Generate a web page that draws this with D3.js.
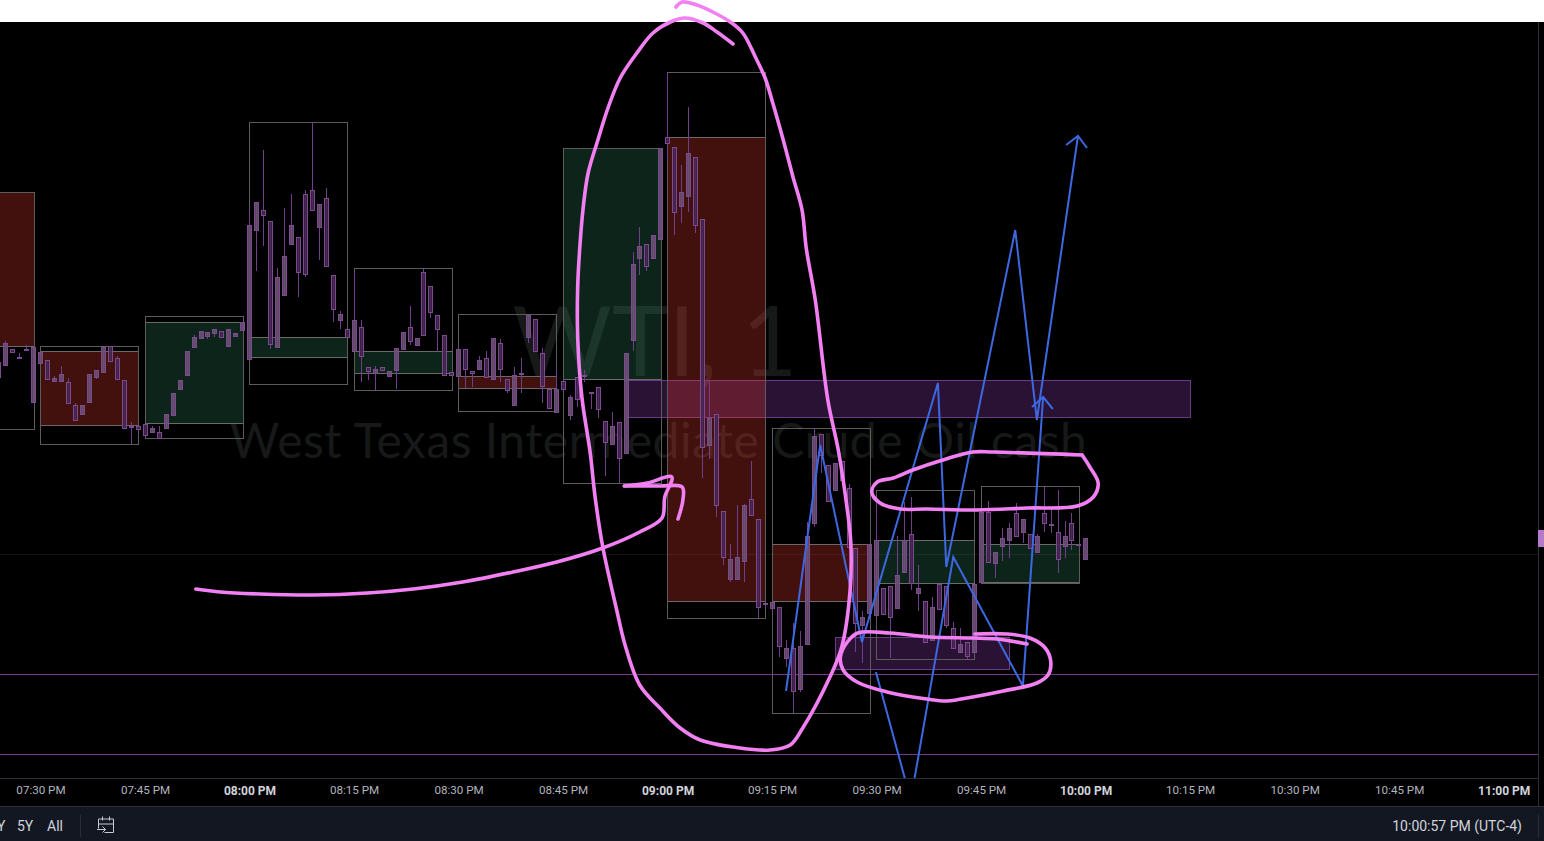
<!DOCTYPE html>
<html>
<head>
<meta charset="utf-8">
<script src="https://cdn.jsdelivr.net/npm/d3@7/dist/d3.min.js"></script>
<style>
html,body{margin:0;padding:0;background:#000;overflow:hidden}
svg{display:block}
text{font-family:"Roboto","Lato",sans-serif}
</style>
</head>
<body>
<script>
// ---- Candles [open, high, low, close], one array per 15-minute session; minute 0 = 08:00 PM
const bars0724 = [[64.38,64.38,64.23,64.23],[64.35,64.59,64.34,64.57],[64.51,64.51,64.48,64.48],[64.43,64.47,64.43,64.43],[64.51,64.55,64.51,64.51],[63.98,64.53,63.98,64.53]];
const bars0730 = [[64.37,64.48,64.37,64.48],[64.40,64.40,64.21,64.21],[64.19,64.24,64.19,64.22],[64.19,64.34,64.19,64.26],[64.18,64.22,63.97,63.97],[63.95,63.97,63.80,63.80],[63.86,63.95,63.86,63.95],[63.98,64.26,63.98,64.26],[64.23,64.30,64.21,64.30],[64.28,64.53,64.28,64.53],[64.54,64.54,64.39,64.39],[64.42,64.44,64.21,64.21],[64.20,64.20,63.72,63.72],[63.74,63.78,63.56,63.74],[63.74,63.74,63.71,63.71]];
const bars0745 = [[63.76,63.76,63.65,63.65],[63.68,63.74,63.68,63.72],[63.68,63.74,63.62,63.62],[63.72,63.86,63.72,63.86],[63.85,64.07,63.84,64.07],[64.11,64.20,64.11,64.20],[64.25,64.49,64.25,64.49],[64.53,64.65,64.53,64.63],[64.62,64.69,64.62,64.69],[64.64,64.68,64.61,64.68],[64.67,64.71,64.63,64.71],[64.69,64.69,64.63,64.63],[64.54,64.71,64.54,64.71],[64.64,64.67,64.63,64.67],[64.70,64.78,64.70,64.78]];
const bars0800 = [[64.41,65.90,64.41,65.75],[65.70,65.98,65.29,65.98],[65.90,66.50,65.54,65.85],[65.79,65.79,64.51,64.56],[64.53,65.32,64.53,65.23],[65.05,65.92,65.05,65.44],[65.56,66.06,65.56,65.75],[65.63,65.63,65.03,65.28],[66.06,66.10,65.23,65.26],[66.10,66.78,65.90,65.90],[65.73,65.96,65.40,65.96],[66.02,66.12,65.34,65.34],[65.25,65.25,64.78,64.91],[64.80,64.89,64.71,64.86],[64.71,64.71,64.63,64.63]];
const bars0815 = [[64.49,65.28,64.49,64.80],[64.73,64.80,64.18,64.44],[64.33,64.33,64.20,64.29],[64.27,64.34,64.10,64.31],[64.33,64.33,64.30,64.30],[64.24,64.29,64.23,64.29],[64.30,64.52,64.11,64.52],[64.51,64.68,64.51,64.68],[64.73,64.94,64.55,64.59],[64.55,64.62,64.55,64.62],[65.28,65.32,64.65,64.65],[65.14,65.14,64.82,64.88],[64.85,64.85,64.48,64.71],[64.65,64.65,64.25,64.25],[64.28,64.28,64.25,64.25]];
const bars0830 = [[64.24,64.51,64.24,64.51],[64.51,64.51,64.12,64.31],[64.29,64.29,64.13,64.27],[64.31,64.44,64.31,64.40],[64.42,64.49,64.23,64.23],[64.21,64.62,64.21,64.62],[64.57,64.61,64.18,64.31],[64.21,64.21,64.07,64.10],[63.95,64.33,63.95,64.25],[64.27,64.42,64.07,64.27],[64.63,64.85,64.57,64.85],[64.81,64.81,64.49,64.49],[64.47,64.52,63.97,64.14],[64.11,64.11,63.92,63.92],[63.88,64.30,63.88,64.11]];
const bars0845 = [[64.19,64.19,64.11,64.11],[63.85,64.05,63.80,64.03],[64.23,64.23,63.93,64.01],[64.25,64.30,64.18,64.25],[64.08,64.08,63.91,64.08],[64.13,64.13,63.82,63.91],[63.79,63.79,63.24,63.58],[63.56,63.88,63.56,63.74],[63.78,63.78,63.17,63.42],[63.47,64.47,63.47,64.47],[64.60,65.48,64.49,65.36],[65.42,65.73,65.25,65.54],[65.56,65.56,65.29,65.34],[65.42,65.65,65.42,65.65],[65.61,66.52,65.61,66.52]];
const bars0900 = [[66.63,67.27,66.40,66.57],[66.53,66.53,65.65,65.88],[65.94,66.35,65.77,66.08],[66.04,66.93,65.88,66.47],[66.43,66.43,65.67,65.75],[65.81,65.81,63.22,63.53],[63.55,64.20,63.41,63.82],[63.86,63.86,62.83,62.95],[62.89,62.89,62.35,62.43],[62.21,62.56,62.18,62.41],[62.21,62.95,62.20,62.43],[62.39,62.96,62.18,62.95],[63.01,63.39,62.85,62.85],[62.81,62.81,61.82,61.93],[61.97,61.97,61.96,61.96]];
const bars0915 = [[61.92,61.98,61.92,61.98],[61.93,61.93,61.43,61.54],[61.42,61.60,61.33,61.52],[61.52,61.77,60.87,61.09],[61.11,61.69,61.08,61.54],[61.56,62.78,61.56,62.64],[62.77,63.72,62.73,63.64],[63.66,63.66,63.27,63.45],[63.35,63.35,62.99,62.99],[63.10,63.37,63.10,63.37],[63.39,63.39,63.20,63.20],[63.12,63.16,62.53,62.53],[62.52,62.52,61.48,61.77],[61.75,61.89,61.37,61.83],[61.87,62.56,61.87,62.56]];
const bars0930 = [[61.85,63.00,61.85,62.60],[62.12,62.12,61.86,61.86],[62.14,62.14,61.42,61.83],[61.92,62.64,61.92,62.25],[62.28,62.98,62.28,62.60],[62.66,63.03,62.10,62.17],[62.07,62.35,61.89,62.12],[61.99,61.99,61.58,61.58],[61.60,62.03,61.60,61.93],[62.16,62.16,61.91,61.91],[62.14,62.14,61.72,61.75],[61.72,61.78,61.52,61.52],[61.48,61.72,61.48,61.56],[61.58,61.58,61.41,61.44],[61.48,62.16,61.48,62.16]];
const bars0945 = [[62.18,62.88,62.18,62.88],[62.88,62.99,62.38,62.38],[62.37,62.48,62.22,62.48],[62.54,62.72,62.39,62.62],[62.60,62.77,62.42,62.72],[62.87,62.97,62.64,62.64],[62.68,62.81,62.57,62.81],[62.66,62.66,62.52,62.52],[62.48,62.66,62.48,62.64],[62.87,63.14,62.68,62.77],[62.76,62.93,62.67,62.76],[62.68,63.10,62.27,62.41],[62.54,62.79,62.42,62.64],[62.77,62.87,62.50,62.60],[62.56,62.56,62.56,62.56]];
const bars1000 = [[62.41,62.62,62.41,62.62]];

const barStarts = [-36,-30,-15,0,15,30,45,60,75,90,105,120];

// ---- Session boxes
const sessionStarts = [-45,-30,-15,0,15,30,45,60,75,90,105];
const sessionHigh   = [66.08,64.54,64.84,66.78,65.32,64.86,66.52,67.28,63.72,63.10,63.14];
const sessionLow    = [63.71,63.56,63.62,64.16,64.10,63.89,63.17,61.82,60.87,61.41,62.17];
const sessionOpen   = [66.08,64.49,63.77,64.43,64.27,64.24,64.21,66.63,62.56,62.17,62.18];
const sessionClose  = [64.54,63.75,64.78,64.63,64.49,64.12,66.52,61.99,61.99,62.60,62.56];

// ---- Zones and levels
const zoneStart = [54,84], zoneEnd = [135,109], zoneTop = [64.20,61.63], zoneBottom = [63.83,61.31];
const levels = [61.26,60.46];
const gridPrice = 62.46;
const lastPriceBand = [62.70,62.53];

// ---- Axis
const tickMinutes = [-30,-15,0,15,30,45,60,75,90,105,120,135,150,165,180];
const tickLabels = ["07:30 PM","07:45 PM","08:00 PM","08:15 PM","08:30 PM","08:45 PM","09:00 PM","09:15 PM","09:30 PM","09:45 PM","10:00 PM","10:15 PM","10:30 PM","10:45 PM","11:00 PM"];
const boldTicks = [0,60,120,180];

// ---- Hand-drawn annotations [minute, price]
const blueWave1 = [[77.0,61.09],[81.9,63.55],[87.9,61.58],[98.8,64.17],[100.0,62.33],[109.9,65.70],[113.0,63.80],[118.9,66.64]];
const blueHead1 = [[117.2,66.55],[118.9,66.64],[120.2,66.52]];
const blueWave2 = [[89.9,61.28],[94.9,60.00],[101.0,62.43],[111.0,61.14],[113.9,64.03]];
const blueHead2 = [[112.3,63.93],[113.9,64.03],[115.3,63.91]];
const pinkEllipse = [[69.4,67.56],[67.1,67.68],[65.1,67.77],[62.5,67.82],[60.4,67.78],[57.9,67.67],[55.6,67.47],[53.2,67.22],[51.5,66.93],[50.0,66.60],[48.6,66.27],[47.9,65.93],[47.4,65.52],[47.1,65.13],[47.1,64.63],[47.7,64.03],[48.9,63.47],[49.6,63.03],[50.7,62.53],[52.7,61.90],[53.9,61.55],[56.0,61.15],[58.9,60.92],[61.8,60.72],[64.7,60.60],[70.4,60.52],[74.7,60.50],[77.6,60.55],[79.4,60.72],[83.3,61.23],[85.0,61.53],[86.2,62.10],[86.3,62.57],[85.8,62.90],[84.5,63.50],[83.0,64.00],[81.2,65.00],[79.9,65.52],[79.3,65.90],[78.0,66.23],[76.6,66.60],[75.1,66.97],[74.0,67.22],[72.6,67.43],[70.8,67.67],[69.0,67.78],[66.5,67.88],[64.2,67.95],[62.1,67.98],[61.2,67.93]];
const pinkArrow = [[-7.7,62.11],[-4.2,62.08],[1.5,62.06],[9.1,62.05],[16.9,62.07],[23.5,62.11],[30.6,62.18],[37.8,62.28],[44.1,62.38],[50.7,62.52],[56.0,62.68],[59.2,62.82],[59.6,63.03],[60.6,63.23],[57.1,63.17],[53.8,63.14]];
const pinkHook = [[53.8,63.14],[58.9,63.14],[62.1,63.13],[62.2,63.00],[61.5,62.81]];
const pinkOvalTop = [[119.5,63.45],[106.7,63.48],[103.8,63.48],[99.5,63.40],[95.2,63.30],[92.4,63.22],[90.1,63.18],[89.3,63.08],[90.5,62.97],[93.4,62.91],[97.2,62.91],[104.4,62.90],[111.6,62.92],[118.8,62.94],[121.1,63.03],[121.8,63.17],[120.6,63.33],[119.5,63.45]];
const pinkOvalBottom = [[111.6,61.56],[107.3,61.61],[103.8,61.62],[97.7,61.63],[91.9,61.67],[87.3,61.67],[85.8,61.58],[84.8,61.43],[85.2,61.30],[87.2,61.18],[91.5,61.08],[97.2,61.01],[100.1,60.99],[103.8,61.03],[108.2,61.09],[113.0,61.17],[114.6,61.25],[115.0,61.38],[114.2,61.52],[112.0,61.62],[108.7,61.66],[104.1,61.66]];

const W = 1544, H = 841, paneR = 1538, paneT = 22, paneB = 778, toolT = 806;
const x = d3.scaleLinear().domain([0,180]).range([249.5,1503.7]);
const y = d3.scaleLinear().domain([60,68]).range([800,0]);
const snapX = v => Math.floor(v + 0.3) + 0.5;
const snapY = v => Math.round(v) + 0.5;

const svg = d3.select("body").append("svg").attr("width",W).attr("height",H);
svg.append("rect").attr("width",W).attr("height",H).attr("fill","#000");
svg.append("rect").attr("width",W).attr("height",paneT).attr("fill","#fff");

svg.append("clipPath").attr("id","pane").append("rect").attr("x",0).attr("y",paneT).attr("width",paneR).attr("height",paneB-paneT);
const pane = svg.append("g").attr("clip-path","url(#pane)");

// grid
pane.append("line").attr("x1",0).attr("x2",paneR).attr("y1",snapY(y(gridPrice))).attr("y2",snapY(y(gridPrice))).attr("stroke","#121212");

// watermark
pane.append("text").attr("x",655).attr("y",376).attr("text-anchor","middle").style("font-family","Lato").attr("font-size",96).attr("fill","#171919").text("WTI, 1");
pane.append("text").attr("x",658.5).attr("y",458).attr("text-anchor","middle").style("font-family","Lato").attr("font-size",48).attr("letter-spacing","0.5").attr("fill","#171919").text("West Texas Intermediate Crude Oil cash");

// zones
pane.selectAll("rect.zone").data(zoneStart).enter().append("rect").attr("class","zone")
  .attr("x",(d)=>snapX(x(d))).attr("width",(d,i)=>Math.round(x(zoneEnd[i])-x(d)))
  .attr("y",(d,i)=>snapY(y(zoneTop[i]))).attr("height",(d,i)=>Math.round(y(zoneBottom[i])-y(zoneTop[i])))
  .attr("fill","rgba(150,65,190,0.28)").attr("stroke","#6a3a82").attr("shape-rendering","crispEdges");

// levels
pane.selectAll("line.level").data(levels).enter().append("line").attr("class","level")
  .attr("x1",0).attr("x2",paneR).attr("y1",d=>snapY(y(d))).attr("y2",d=>snapY(y(d)))
  .attr("stroke","#76398a").attr("shape-rendering","crispEdges");

// session boxes
const sess = pane.append("g").selectAll("g").data(sessionStarts).enter().append("g");
const boxX = d => snapX(x(d)), boxW = d => Math.round(x(d+14)-x(d));
sess.append("rect").attr("x",boxX).attr("width",boxW)
  .attr("y",(d,i)=>snapY(y(Math.max(sessionOpen[i],sessionClose[i]))))
  .attr("height",(d,i)=>Math.round(Math.abs(y(sessionOpen[i])-y(sessionClose[i]))))
  .attr("fill",(d,i)=>sessionClose[i]>sessionOpen[i]?"rgba(45,130,95,0.28)":"rgba(230,60,45,0.29)")
  .attr("stroke","#6a6a6a").attr("shape-rendering","crispEdges");
sess.append("rect").attr("x",boxX).attr("width",boxW)
  .attr("y",(d,i)=>snapY(y(sessionHigh[i])))
  .attr("height",(d,i)=>Math.round(y(sessionLow[i])-y(sessionHigh[i])))
  .attr("fill","none").attr("stroke","#5c5c5c").attr("shape-rendering","crispEdges");

// candles
const allBars = [bars0724,bars0730,bars0745,bars0800,bars0815,bars0830,bars0845,bars0900,bars0915,bars0930,bars0945,bars1000]
  .flatMap((arr,k)=>arr.map((b,i)=>({m:barStarts[k]+i,o:b[0],h:b[1],l:b[2],c:b[3]})));
const candle = pane.append("g").selectAll("g").data(allBars).enter().append("g").attr("shape-rendering","crispEdges");
candle.append("line")
  .attr("x1",d=>snapX(x(d.m))).attr("x2",d=>snapX(x(d.m)))
  .attr("y1",d=>Math.round(y(d.h))).attr("y2",d=>Math.round(y(d.l)))
  .attr("stroke","#703f8a");
candle.append("rect")
  .attr("x",d=>snapX(x(d.m))-2).attr("width",4)
  .attr("y",d=>snapY(y(Math.max(d.o,d.c))))
  .attr("height",d=>Math.max(1,Math.round(Math.abs(y(d.o)-y(d.c)))))
  .attr("fill",d=>d.c>d.o?"#6a5272":"#432450").attr("fill-opacity",0.85)
  .attr("stroke","#7d4a90");

// blue annotations
const straight = d3.line().x(d=>x(d[0])).y(d=>y(d[1]));
pane.selectAll("path.blue").data([blueWave1,blueHead1,blueWave2,blueHead2]).enter().append("path")
  .attr("class","blue").attr("d",straight).attr("fill","none").attr("stroke","#3d68e2").attr("stroke-width",2);

// axis
svg.append("line").attr("x1",0).attr("x2",paneR).attr("y1",paneB+0.5).attr("y2",paneB+0.5).attr("stroke","#2a2e39");
svg.append("line").attr("x1",paneR+0.5).attr("x2",paneR+0.5).attr("y1",paneT).attr("y2",toolT).attr("stroke","#2a2e39");
const axis = d3.axisBottom(x).tickValues(tickMinutes).tickSize(0).tickPadding(0)
  .tickFormat(d=>tickLabels[tickMinutes.indexOf(d)]);
const ax = svg.append("g").attr("transform",`translate(0,${paneB+8})`).call(axis);
ax.select(".domain").remove();
ax.selectAll("text")
  .attr("font-size",d=>boldTicks.includes(d)?12:11.6)
  .attr("fill",d=>boldTicks.includes(d)?"#d1d4dc":"#b2b5be")
  .attr("font-weight",d=>boldTicks.includes(d)?"700":"400");

// last price marker
svg.append("rect").attr("x",paneR).attr("width",W-paneR)
  .attr("y",y(lastPriceBand[0])).attr("height",y(lastPriceBand[1])-y(lastPriceBand[0])).attr("fill","#b57acb");

// toolbar
svg.append("rect").attr("x",0).attr("y",toolT).attr("width",W).attr("height",H-toolT).attr("fill","#131722");
svg.append("line").attr("x1",0).attr("x2",W).attr("y1",toolT+0.5).attr("y2",toolT+0.5).attr("stroke","#2a2e39");
const tool = svg.append("g");
[["Y",-3],["5Y",17],["All",47]].forEach(t=>tool.append("text").attr("x",t[1]).attr("y",831).attr("fill","#d1d4dc").attr("font-size",14).text(t[0]));
tool.append("text").attr("x",1522).attr("y",831).attr("text-anchor","end").attr("fill","#d1d4dc").attr("font-size",14).text("10:00:57 PM (UTC-4)");
svg.append("line").attr("x1",80.5).attr("x2",80.5).attr("y1",815).attr("y2",837).attr("stroke","#2a2e39");
svg.append("line").attr("x1",1538.5).attr("x2",1538.5).attr("y1",815).attr("y2",837).attr("stroke","#2a2e39");
svg.append("path").attr("d","M98.5 828.5v-9.5h15v13.5h-9M98.5 824h15M102.5 816.5v4M109.5 816.5v4M97 829.5h8.5M102.5 826.5l3 3l-3 3")
  .attr("fill","none").attr("stroke","#c8cbd3").attr("stroke-width",1);

// pink annotations (drawn across the whole page)
const smooth = d3.line().x(d=>x(d[0])).y(d=>y(d[1])).curve(d3.curveCatmullRom.alpha(0.5));
svg.selectAll("path.pink").data([pinkEllipse,pinkArrow,pinkHook,pinkOvalTop,pinkOvalBottom]).enter().append("path")
  .attr("class","pink").attr("d",smooth).attr("fill","none").attr("stroke","#f280f2")
  .attr("stroke-width",3.6).attr("stroke-linecap","round").attr("stroke-linejoin","round");
</script>
</body>
</html>
